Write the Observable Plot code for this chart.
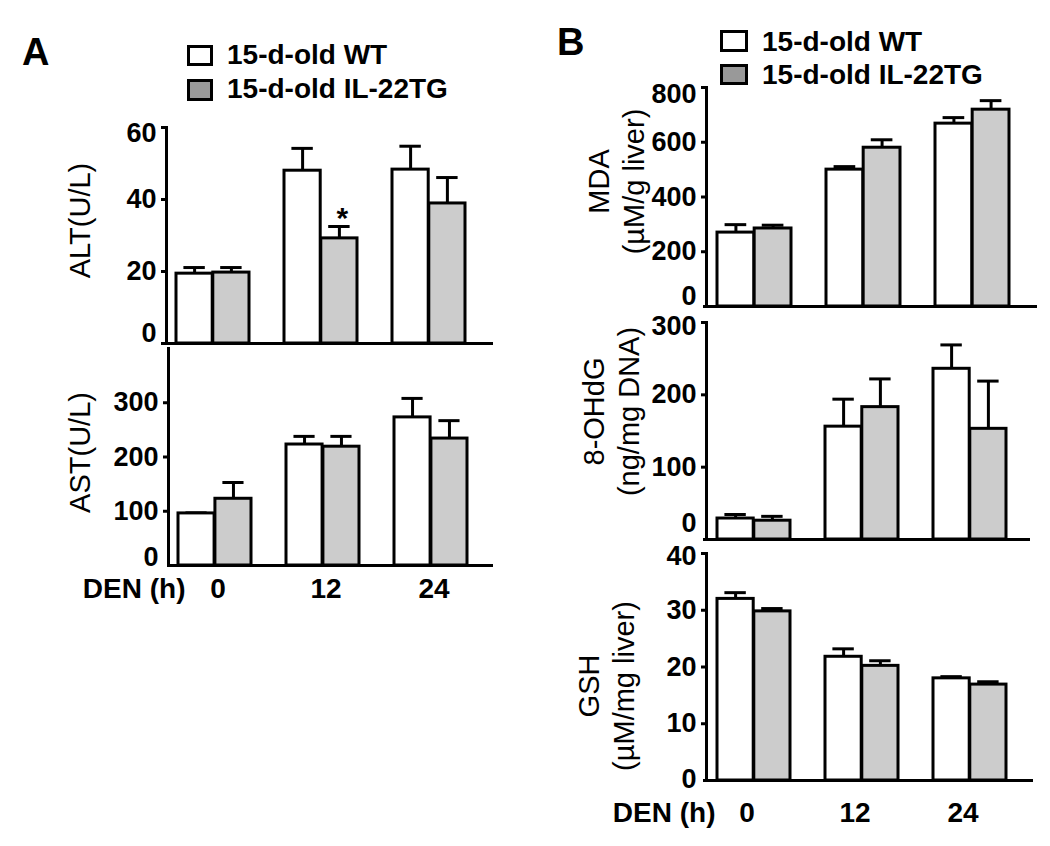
<!DOCTYPE html>
<html>
<head>
<meta charset="utf-8">
<script src="https://cdn.jsdelivr.net/npm/d3@7"></script>
<script src="https://cdn.jsdelivr.net/npm/@observablehq/plot@0.6"></script>
<style>
  body { margin: 0; background: #fff; font-family: "Liberation Sans", Arial, sans-serif; }
  #root { position: relative; width: 1050px; height: 846px; overflow: hidden; background: #fff; }
  .pos { position: absolute; }
  .letter { font-weight: bold; font-size: 38px; line-height: 38px; }
  .legtext { font-weight: bold; font-size: 28px; line-height: 28px; white-space: nowrap; }
  .sw { box-sizing: border-box; border: 3.5px solid #000; }
</style>
</head>
<body>
<div id="root"></div>
<script>
// ---------- data ----------
const times = ["0", "12", "24"];
const groups = ["15-d-old WT", "15-d-old IL-22TG"];

const altWT = [19.4, 48.0, 48.3];
const altWTsd = [1.7, 6.2, 6.5];
const altTG = [19.7, 29.2, 38.9];
const altTGsd = [1.4, 3.3, 7.2];
const altSig = ["", "*", ""];

const astWT = [96, 223, 273];
const astWTsd = [1, 15, 35];
const astTG = [123, 219, 234];
const astTGsd = [30, 19, 33];

const mdaWT = [270, 500, 668];
const mdaWTsd = [29, 11, 22];
const mdaTG = [285, 580, 719];
const mdaTGsd = [12, 29, 33];

const ohdgWT = [29, 156, 236];
const ohdgWTsd = [5.6, 38, 33];
const ohdgTG = [26, 183, 153];
const ohdgTGsd = [6, 39, 66];

const gshWT = [32.0, 21.8, 18.0];
const gshWTsd = [1.1, 1.4, 0.3];
const gshTG = [29.8, 20.2, 16.9];
const gshTGsd = [0.5, 0.9, 0.5];

const altTicks = [0, 20, 40, 60];
const astTicks = [0, 100, 200, 300];
const mdaTicks = [0, 200, 400, 600, 800];
const ohdgTicks = [0, 100, 200, 300];
const gshTicks = [0, 10, 20, 30, 40];

const xLabel = "DEN (h)";

// ---------- drawing ----------
const FONT = "Liberation Sans, Arial, sans-serif";
const root = document.getElementById("root");

function panel(cfg) {
  const rows = times.flatMap((t, i) => [
    {time: t, group: groups[0], mean: cfg.wt[i], sd: cfg.wtsd[i], sig: ""},
    {time: t, group: groups[1], mean: cfg.tg[i], sd: cfg.tgsd[i], sig: cfg.sig ? cfg.sig[i] : ""}
  ]);
  const WT = rows.filter(d => d.group === groups[0]);
  const TG = rows.filter(d => d.group === groups[1]);
  const xOpts = {type: "band", domain: times, range: cfg.xr, paddingInner: 0.32, paddingOuter: 0};
  const bw = Plot.scale({x: xOpts}).bandwidth;
  const half = bw / 2, q = bw / 4, cap = 11;
  const top = d => d.mean + d.sd;
  const tmax = Math.max(...cfg.ticks);
  const labelStyle = {tickSize: 0, tickPadding: 10, fontSize: 27, fontWeight: "bold", fontFamily: FONT, label: null};
  const marks = [
    Plot.ruleX(WT, {x: "time", y1: "mean", y2: top, dx: -q, stroke: "black", strokeWidth: 3}),
    Plot.ruleX(TG, {x: "time", y1: "mean", y2: top, dx: q, stroke: "black", strokeWidth: 3}),
    Plot.tickY(WT, {x: "time", y: top, insetLeft: q - cap, insetRight: 3 * q - cap, stroke: "black", strokeWidth: 3}),
    Plot.tickY(TG, {x: "time", y: top, insetLeft: 3 * q - cap, insetRight: q - cap, stroke: "black", strokeWidth: 3}),
    Plot.barY(WT, {x: "time", y: "mean", fill: "white", stroke: "black", strokeWidth: 3, insetRight: half}),
    Plot.barY(TG, {x: "time", y: "mean", fill: "#cccccc", stroke: "black", strokeWidth: 3, insetLeft: half}),
    Plot.frame({anchor: "left", stroke: "black", strokeWidth: 3}),
    Plot.ruleY([0], {stroke: "black", strokeWidth: 3, insetLeft: -cfg.ext}),
    // tick marks only
    Plot.axisY({ticks: cfg.ticks.filter(v => v !== 0), tickSize: 5, strokeWidth: 3, tickFormat: () => "", label: null}),
    // tick labels: middle, bottom (0) and top, each nudged like the original
    Plot.axisY({...labelStyle, ticks: cfg.ticks.filter(v => v !== 0 && v !== tmax)}),
    Plot.axisY({...labelStyle, ticks: [0], dy: -cfg.zeroLift}),
    Plot.axisY({...labelStyle, ticks: [tmax], dy: cfg.topDrop}),
    Plot.text([cfg.label], {frameAnchor: "left", rotate: -90, dx: cfg.labelDx, dy: cfg.labelDy,
      fontSize: 29, fontFamily: FONT, lineHeight: 1.2, textAnchor: "middle", lineAnchor: "middle", fill: "black"})
  ];
  if (cfg.sig) {
    marks.push(Plot.text(TG.filter(d => d.sig), {x: "time", y: top, text: "sig", dx: q + 3, dy: -8,
      fontSize: 30, fontWeight: "bold", fontFamily: FONT, fill: "black", lineAnchor: "middle"}));
  }
  if (cfg.xAxis) {
    marks.push(Plot.axisX({tickSize: 0, tickPadding: cfg.xPad, dx: cfg.xDx, fontSize: 28, fontWeight: "bold",
      fontFamily: FONT, label: null}));
    marks.push(Plot.text([xLabel], {frameAnchor: "bottom-left", textAnchor: "end", lineAnchor: "top",
      dx: cfg.denDx, dy: cfg.xPad, fontSize: 28, fontWeight: "bold", fontFamily: FONT, fill: "black"}));
  }
  const svg = Plot.plot({
    width: cfg.width, height: cfg.height,
    marginLeft: cfg.ml, marginRight: cfg.mr, marginTop: cfg.mt, marginBottom: cfg.mb,
    x: {...xOpts, axis: null},
    y: {domain: [0, cfg.yMax], axis: null},
    style: {background: "transparent", overflow: "visible", fontFamily: FONT, color: "black"},
    marks
  });
  svg.style.position = "absolute";
  svg.style.left = cfg.left + "px";
  svg.style.top = cfg.top + "px";
  root.appendChild(svg);
}

// Panel A
panel({wt: altWT, wtsd: altWTsd, tg: altTG, tgsd: altTGsd, sig: altSig, yMax: 60, ticks: altTicks,
  label: "ALT(U/L)", left: 0, top: 110, width: 510, height: 236, ml: 166, mr: 17, mt: 17, mb: 3,
  xr: [176, 466], ext: 5, labelDx: -88, labelDy: -15, zeroLift: 10, topDrop: 6});
panel({wt: astWT, wtsd: astWTsd, tg: astTG, tgsd: astTGsd, yMax: 400, ticks: astTicks,
  label: "AST(U/L)", left: 0, top: 346, width: 510, height: 264, ml: 168, mr: 17, mt: 2, mb: 45,
  xr: [177, 468], ext: 0, labelDx: -90, labelDy: -4.5, zeroLift: 8, topDrop: 0,
  xAxis: true, xPad: 13, xDx: 3, denDx: 17});

// Panel B
panel({wt: mdaWT, wtsd: mdaWTsd, tg: mdaTG, tgsd: mdaTGsd, yMax: 800, ticks: mdaTicks,
  label: "MDA\n(µM/g liver)", left: 540, top: 70, width: 510, height: 243, ml: 166, mr: 13, mt: 17, mb: 7,
  xr: [177, 470], ext: 3, labelDx: -91.5, labelDy: -15.5, zeroLift: 10, topDrop: 7});
panel({wt: ohdgWT, wtsd: ohdgWTsd, tg: ohdgTG, tgsd: ohdgTGsd, yMax: 300, ticks: ohdgTicks,
  label: "8-OHdG\n(ng/mg DNA)", left: 540, top: 313, width: 510, height: 232, ml: 166, mr: 20, mt: 9, mb: 6,
  xr: [177, 467], ext: 3, labelDx: -96, labelDy: -19.5, zeroLift: 16, topDrop: 4});
panel({wt: gshWT, wtsd: gshWTsd, tg: gshTG, tgsd: gshTGsd, yMax: 40, ticks: gshTicks,
  label: "GSH\n(µM/mg liver)", left: 540, top: 545, width: 510, height: 301, ml: 166, mr: 17, mt: 8, mb: 66,
  xr: [177, 467], ext: 3, labelDx: -101.5, labelDy: 19, zeroLift: 1, topDrop: 3,
  xAxis: true, xPad: 22, xDx: -7, denDx: 9});

// Panel letters and legends
function addDiv(cls, left, top, text, extra) {
  const d = document.createElement("div");
  d.className = "pos " + cls;
  d.style.left = left + "px";
  d.style.top = top + "px";
  if (text) d.textContent = text;
  if (extra) Object.assign(d.style, extra);
  root.appendChild(d);
  return d;
}
addDiv("letter", 22, 33, "A");
addDiv("letter", 557, 23, "B");

function legend(x, y1, y2, boxW, boxH1, boxH2, tx, t1, t2) {
  addDiv("sw", x, y1, "", {width: boxW + "px", height: boxH1 + "px", background: "#ffffff"});
  addDiv("sw", x, y2, "", {width: boxW + "px", height: boxH2 + "px", background: "#999999"});
  addDiv("legtext", tx, t1, groups[0]);
  addDiv("legtext", tx, t2, groups[1]);
}
legend(187, 45, 79, 26, 21, 22, 227, 41, 75);
legend(720, 30, 64, 28, 22, 21, 762, 28, 61);
</script>
</body>
</html>
